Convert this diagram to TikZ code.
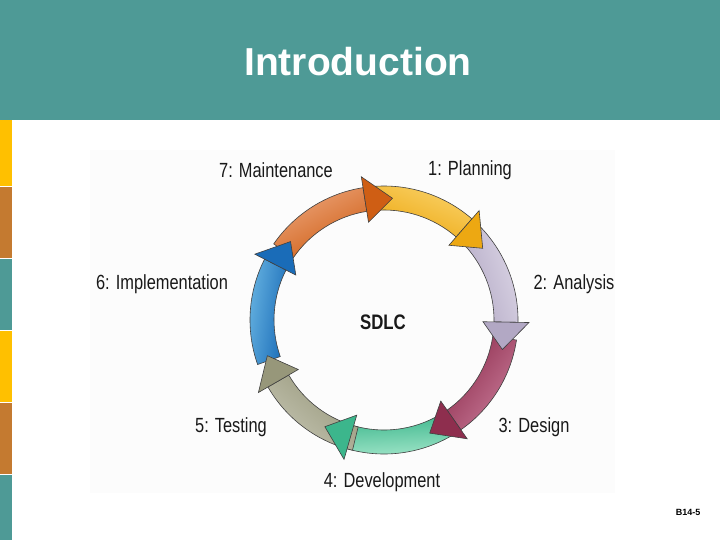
\documentclass[tikz,border=0pt]{standalone}
\usepackage{fontspec}
\usetikzlibrary{calc}
\setmainfont{Liberation Sans}
\newfontfamily\lab[FakeStretch=0.8]{Liberation Sans}
\definecolor{teal}{HTML}{4E9A96}
\definecolor{stry}{HTML}{FFC000}
\definecolor{stro}{HTML}{C47A30}
\definecolor{c1a}{HTML}{FAD36A}\definecolor{c1b}{HTML}{EDA812}
\definecolor{c2a}{HTML}{DCD6E6}\definecolor{c2b}{HTML}{B2A8C4}
\definecolor{c3a}{HTML}{C87A98}\definecolor{c3b}{HTML}{8E2E4E}
\definecolor{c4a}{HTML}{A6E8CC}\definecolor{c4b}{HTML}{3CB68C}
\definecolor{c5a}{HTML}{C4C4B2}\definecolor{c5b}{HTML}{97977A}
\definecolor{c6a}{HTML}{6CB8E4}\definecolor{c6b}{HTML}{1A6CB8}
\definecolor{c7a}{HTML}{ECA47A}\definecolor{c7b}{HTML}{CF5E14}
\begin{document}
\begin{tikzpicture}[x=1pt,y=1pt,
  lbl/.style={font=\lab\fontsize{20.5}{22}\selectfont,text=black!90,inner sep=0pt},
  ring/.style={draw=black!75,line width=0.6pt}]
\useasboundingbox (0,0) rectangle (720,-540);
\fill[white] (0,0) rectangle (720,-540);
\fill[teal] (0,0) rectangle (720,-120);
\node[text=white,font=\bfseries\fontsize{39}{42}\selectfont] (title) at (358,-62) {Introduction};
\foreach \a/\b/\c in {120/186/stry,187/258/stro,259/330/teal,331/402/stry,403/474/stro,475/540/teal}
  \fill[\c] (0,-\a) rectangle (12,-\b);
\fill[black!1] (90,-150) rectangle (615,-493);
% ring arrows
\def\Rin{110}\def\Rout{134}\def\Rm{122}
\newcommand\body[3]{% tip angle, tail col, head col
  \pgfmathsetmacro\ta{#1+51.4+8}\pgfmathsetmacro\hb{#1+13}\pgfmathsetmacro\sa{#1+32-90}
  \shade[ring,left color=#2,right color=#3,shading angle=\sa]
   ($(384,-320)+(\ta:\Rout pt)$) arc[start angle=\ta,end angle=\hb,radius=\Rout pt]
   -- ($(384,-320)+(\hb:\Rin pt)$) arc[start angle=\hb,end angle=\ta,radius=\Rin pt] -- cycle;}
\newcommand\head[2]{%
  \pgfmathsetmacro\hb{#1+13}
  \fill[ring,fill=#2] ($(384,-320)+(\hb:\Rout pt)$) -- ($(384,-320)+(\hb:145pt)$)
   -- ($(384,-320)+(#1:\Rm pt)$) -- ($(384,-320)+(\hb:99pt)$) -- ($(384,-320)+(\hb:\Rin pt)$) -- cycle;}
\body{36}{c1a}{c1b}
\body{-14}{c2a}{c2b}
\body{-68}{c3a}{c3b}
\body{-119}{c4a}{c4b}
\body{-163}{c5a}{c5b}
\body{140}{c6a}{c6b}
\body{86}{c7a}{c7b}
\head{36}{c1b}
\head{-14}{c2b}
\head{-68}{c3b}
\head{-119}{c4b}
\head{-163}{c5b}
\head{140}{c6b}
\head{86}{c7b}
\node[lbl] (m) at (276,-170) {7: Maintenance};
\node[lbl] (p) at (470,-170) {1: Planning};
\node[lbl] (an) at (574,-284) {2: Analysis};
\node[lbl] (im) at (162,-284) {6: Implementation};
\node[lbl] (ds) at (534,-427) {3: Design};
\node[lbl] (ts) at (231,-427) {5: Testing};
\node[lbl] (dv) at (382,-482) {4: Development};
\node[lbl,font=\lab\bfseries\fontsize{21}{22}\selectfont] (s) at (383,-322) {SDLC};
\node[font=\bfseries\fontsize{9}{10}\selectfont] (pg) at (688,-512) {B14-5};
\end{tikzpicture}
\end{document}
